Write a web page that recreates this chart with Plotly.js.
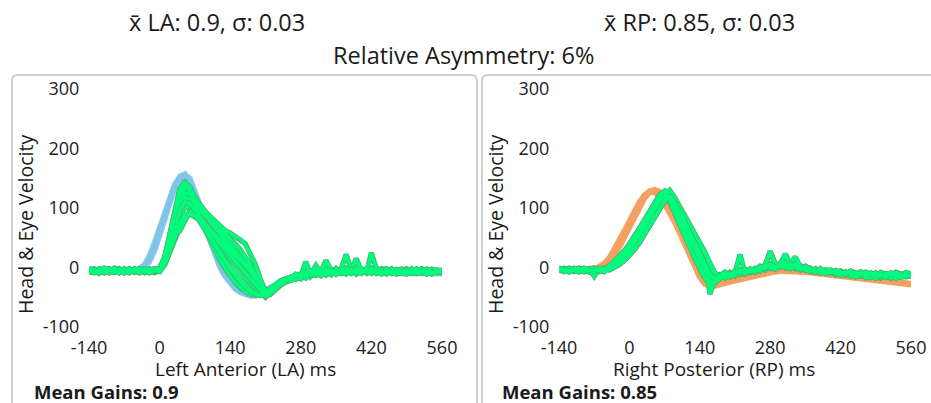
<!DOCTYPE html>
<html>
<head>
<meta charset="utf-8">
<script src="https://cdn.plot.ly/plotly-3.0.1.min.js"></script>
<style>html,body{margin:0;padding:0;background:#fff;}#chart{width:931px;height:403px;}</style>
</head>
<body>
<div id="chart"></div>
<script>
// ---- data ----
const timeMs = [-140,-130,-120,-110,-100,-90,-80,-70,-60,-50,
  -40,-30,-20,-10,0,10,20,30,40,50,
  60,70,80,90,100,110,120,130,140,150,
  160,170,180,190,200,210,220,230,240,250,
  260,270,280,290,300,310,320,330,340,350,
  360,370,380,390,400,410,420,430,440,450,
  460,470,480,490,500,510,520,530,540,550,560];

const xTicks = [-140,0,140,280,420,560];
const yTicks = [-100,0,100,200,300];

// Left Anterior: head velocity (blue)
const laHead1 = [-6,-5,-7,-6,-5,-6,-7,-6,-5,-5,
  -3,3,15,35,60,88,115,138,153,157,
  145,122,98,75,45,20,0,-15,-27,-36,
  -42,-46,-48,-47,-44,-39,-34,-29,-25,-22,
  -19,-17,-15,-14,-12,-11,-10,-10,-9,-9,
  -8,-8,-8,-7,-7,-7,-7,-8,-8,-8,
  -8,-8,-9,-9,-9,-9,-9,-9,-10,-10,-10];
const laHead2 = [-4,-6,-5,-7,-6,-5,-6,-5,-6,-4,
  -2,5,20,42,68,95,120,140,150,150,
  138,115,92,70,44,20,2,-13,-25,-34,
  -40,-44,-47,-48,-46,-42,-37,-32,-28,-24,
  -21,-18,-16,-14,-13,-12,-11,-10,-10,-9,
  -9,-8,-8,-8,-7,-7,-8,-8,-8,-9,
  -9,-9,-10,-10,-10,-9,-9,-10,-11,-11,-10];
const laHead3 = [-7,-7,-6,-5,-7,-7,-5,-7,-7,-6,
  -5,0,10,28,52,80,108,132,148,155,
  150,130,105,80,52,26,6,-9,-22,-31,
  -38,-43,-46,-46,-43,-38,-33,-28,-24,-21,
  -18,-16,-14,-13,-12,-10,-9,-9,-8,-8,
  -7,-7,-7,-6,-6,-6,-7,-7,-7,-7,
  -7,-8,-8,-8,-8,-8,-8,-9,-9,-9,-9];

// Left Anterior: eye velocity (green)
const laEye1 = [-3,-8,-2,-6,-9,-1,-5,-7,-3,-6,
  -4,-8,-2,-6,0,18,55,98,132,143,
  135,118,102,90,79,70,58,47,38,28,
  19,8,-3,-18,-33,-42,-36,-29,-24,-20,
  -19,-14,-17,-11,-14,-8,-12,-5,-10,-6,
  -9,-3,-8,-2,-7,-5,-1,-8,-4,-7,
  -2,-9,-4,-8,-3,-7,-10,-4,-8,-5,-9];
const laEye2 = [-7,-4,-10,-3,-6,-8,-2,-9,-5,-3,
  -8,-5,-3,-9,-5,8,35,72,102,118,
  115,98,80,62,44,28,12,-2,-14,-25,
  -34,-41,-45,-46,-44,-40,-35,-30,-26,-22,
  -21,-18,-13,-16,-10,-13,-7,12,-5,-9,
  -4,-8,-1,-6,-3,-9,-2,-6,-8,-3,
  -7,-4,-9,-3,-8,-5,-2,-9,-5,-7,-4];
const laEye3 = [-5,-2,-7,-4,-8,-3,-6,-4,-9,-2,
  -6,-3,-7,-4,-2,15,48,88,118,135,
  130,117,105,95,86,78,70,62,58,52,
  48,40,22,5,-20,-40,-45,-37,-30,-25,
  -20,-16,-18,-12,-9,-13,-6,-10,-3,-8,
  -2,22,-4,-9,-6,-2,-8,-4,-10,-6,
  -3,-8,-5,-2,-9,-6,-4,-8,-3,-7,-5];
const laEye4 = [-2,-6,-4,-9,-3,-7,-5,-2,-8,-6,
  -3,-9,-5,-2,-6,5,28,60,88,100,
  104,96,85,72,60,48,36,25,14,4,
  -6,-16,-26,-35,-42,-46,-40,-32,-26,-21,
  -17,-20,-14,10,-15,-7,-12,-4,-9,-2,
  -7,-3,-6,15,-5,-8,-3,-7,-2,-9,
  -5,-8,-3,-7,-6,-2,-8,-5,-9,-4,-6];
const laEye5 = [-6,-3,-8,-5,-2,-7,-4,-8,-3,-5,
  -9,-4,-6,-8,-4,6,30,55,62,78,
  95,90,78,64,50,36,22,10,-2,-14,
  -24,-33,-40,-45,-47,-43,-37,-31,-26,-22,
  -18,-15,-19,-12,-8,-11,-6,-9,-4,-10,
  -5,-1,-7,-4,-8,-3,-6,-9,-4,-2,
  -8,-5,-3,-9,-6,-4,-7,-3,-8,-6,-5];
const laEye6 = [-4,-7,-3,-5,-8,-4,-9,-3,-6,-7,
  -2,-6,-9,-3,-5,14,46,86,122,138,
  132,116,100,88,77,67,56,45,35,26,
  16,6,-6,-24,-40,-50,-42,-34,-28,-23,
  -22,-17,-14,-18,-11,-9,-14,-6,-7,-11,
  -3,-6,-9,-2,-5,-7,-4,-1,-6,-8,
  -4,-9,-6,-3,-7,-10,-3,-7,-4,-8,-9];
const laEye7 = [-8,-5,-3,-7,-4,-6,-8,-5,-7,-4,
  -6,-2,-7,-5,-1,10,38,78,110,125,
  124,112,99,89,82,74,65,56,48,40,
  30,18,4,-14,-32,-42,-35,-27,-22,-19,
  -16,-19,-12,-15,-8,-12,-5,-9,-7,-3,
  -8,-5,-2,-7,-4,-9,25,-3,-7,-5,
  -9,-3,-6,-8,-2,-7,-5,-9,-3,-6,-8];
const laEye8 = [-9,-4,-6,-1,-5,-8,-3,-6,-2,-8,
  -5,-7,-3,-6,-3,9,36,62,96,110,
  108,98,86,74,62,51,40,30,20,11,
  2,-8,-18,-30,-40,-48,-44,-35,-28,-22,
  -16,-12,-15,-9,-13,-4,-10,-6,-12,-2,
  -10,-6,-3,-11,-5,-8,-2,-10,-6,-9,
  -6,-11,-7,-4,-10,-8,-5,-11,-7,-9,-6];
const laEye9 = [-1,-6,-9,-4,-2,-8,-5,-9,-4,-7,
  -8,-3,-5,-2,-4,16,50,92,130,145,
  128,106,86,68,52,38,24,12,0,-10,
  -20,-30,-38,-44,-47,-44,-38,-31,-25,-21,
  -18,-11,-16,-8,-12,3,-9,-13,-6,-8,
  -6,-11,-4,-8,-10,-3,-9,-5,-11,-4,
  -10,-6,-8,-11,-4,-9,-7,-3,-10,-7,-4];
const laEye10 = [-6,-9,-4,-8,-5,-3,-9,-4,-8,-3,
  -4,-6,-8,-4,-7,4,26,50,72,88,
  90,86,80,72,63,54,45,36,28,20,
  12,3,-7,-18,-30,-40,-42,-34,-27,-22,
  -19,-13,-11,-14,-6,-10,-13,-3,-8,-12,
  -7,-2,-10,-5,-3,-6,-10,-2,-7,-11,
  -3,-7,-10,-6,-9,-3,-6,-8,-11,-5,-8];

// Right Posterior: head velocity (orange)
const rpHead1 = [-4,-3,-5,-4,-3,-4,-3,-2,0,4,
  12,25,40,56,72,90,106,120,129,130,
  124,114,100,85,68,48,26,5,-14,-26,
  -31,-30,-27,-24,-22,-20,-18,-16,-14,-12,
  -10,-8,-7,-6,-5,-5,-5,-6,-6,-7,
  -8,-9,-10,-11,-12,-13,-14,-15,-16,-17,
  -18,-19,-20,-21,-22,-23,-24,-25,-26,-27,-28];
const rpHead2 = [-3,-5,-4,-3,-5,-3,-4,-3,2,7,
  16,30,46,62,78,95,110,122,128,126,
  118,106,92,76,58,38,18,0,-17,-28,
  -32,-31,-28,-25,-23,-21,-19,-17,-15,-13,
  -11,-9,-8,-7,-6,-6,-6,-7,-7,-8,
  -9,-10,-11,-12,-13,-14,-15,-16,-17,-18,
  -19,-20,-21,-22,-23,-24,-25,-26,-27,-28,-29];
const rpHead3 = [-5,-4,-3,-5,-4,-5,-4,-4,-1,2,
  8,20,34,50,66,84,101,116,126,131,
  128,119,106,92,75,55,34,12,-8,-22,
  -29,-30,-28,-25,-23,-21,-19,-17,-15,-13,
  -11,-9,-8,-7,-6,-5,-5,-5,-6,-6,
  -7,-8,-9,-10,-11,-12,-13,-14,-15,-16,
  -17,-18,-19,-20,-21,-22,-23,-24,-25,-26,-27];

// Right Posterior: eye velocity (green)
const rpEye1 = [-2,-6,-1,-4,-7,-2,-5,-3,-6,-1,
  2,9,17,26,36,48,62,76,91,106,
  118,127,126,112,98,83,68,53,38,21,
  3,-11,-14,-18,-10,-14,-6,-11,-3,-7,
  1,-4,5,0,8,2,6,-2,3,-5,
  -1,-8,-3,-10,-5,-12,-6,-13,-9,-16,
  -10,-17,-11,-18,-12,-16,-10,-17,-11,-15,-9];
const rpEye2 = [-5,-1,-4,-7,-2,-6,-3,-15,-2,-4,
  -2,5,12,21,30,43,57,71,86,101,
  113,122,128,115,100,84,70,55,40,22,
  -45,-20,-12,-16,-8,-13,-4,-9,-5,-2,
  -6,2,-1,6,1,7,0,4,-4,1,
  -7,-2,-9,-4,-6,-11,-7,-9,-14,-10,
  -15,-11,-16,-12,-18,-13,-15,-19,-12,-16,-13];
const rpEye3 = [-4,-3,-7,-2,-5,-4,-8,-1,-5,-6,
  1,8,14,23,33,45,58,72,88,103,
  115,124,122,108,94,79,64,49,34,17,
  -2,-14,-18,-13,-15,-8,22,-10,-7,-3,
  -5,3,-2,4,6,9,1,5,-3,2,
  -3,-6,-4,-9,-7,-8,-12,-8,-14,-11,
  -13,-16,-12,-15,-13,-17,-12,-14,-16,-11,-14];
const rpEye4 = [-3,-7,-2,-5,-1,-6,-3,-5,-7,-2,
  -1,6,13,22,32,44,56,70,84,98,
  109,116,117,106,93,79,65,51,37,20,
  4,-12,-17,-14,-11,-13,-7,-9,-5,-8,
  -1,4,27,6,3,8,2,-1,2,-4,
  -2,-7,-5,-8,-6,-10,-9,-13,-10,-12,
  -14,-12,-15,-13,-16,-12,-18,-13,-15,-14,-12];
const rpEye5 = [-6,-2,-5,-3,-8,-4,-2,-6,-3,-5,
  0,7,16,25,35,47,61,75,90,105,
  117,126,125,111,97,82,67,52,37,19,
  0,-15,-15,-12,-16,-10,-12,-6,-9,-4,
  -3,1,3,-2,5,23,4,2,-2,0,
  -5,-3,-8,-6,-10,-7,-11,-10,-13,-15,
  -12,-14,-17,-13,-15,-11,-14,-16,-13,-10,-15];
const rpEye6 = [-1,-4,-6,-2,-4,-7,-3,-2,-5,-3,
  -3,3,10,19,28,40,53,67,82,97,
  111,122,130,118,103,87,72,57,42,26,
  8,-9,-15,-17,-12,-9,-11,-7,-4,-6,
  0,-3,4,2,7,3,8,1,-2,-3,
  -6,-4,-7,-5,-9,-8,-10,-11,-12,-14,
  -11,-15,-13,-16,-14,-13,-17,-12,-14,-13,-16];
const rpEye7 = [-4,-5,-2,-6,-3,-3,-6,-4,-2,-7,
  3,10,18,27,37,49,63,77,92,107,
  119,128,124,109,95,80,65,50,35,18,
  -1,-13,-16,-14,-12,-11,-8,-7,-7,-2,
  -3,1,0,5,2,6,5,18,1,-2,
  -4,-6,-5,-7,-8,-9,-10,-9,-11,-13,
  -15,-13,-14,-12,-17,-15,-13,-15,-17,-14,-11];
const rpEye8 = [-3,-6,-4,-1,-6,-3,-7,-2,-5,-4,
  2,10,18,28,40,52,66,80,95,110,
  122,128,112,92,72,52,34,16,-2,-18,
  -28,-22,-15,-10,-13,-7,-10,-4,-8,-1,
  -4,3,-1,7,2,5,-1,3,-4,0,
  -6,-3,-9,-5,-4,-10,-6,-12,-8,-11,
  -7,-12,-9,-14,-8,-11,-15,-9,-13,-8,-11];
const rpEye9 = [-5,-3,-6,-4,-2,-7,-4,-6,-3,-2,
  -4,0,5,12,20,30,42,56,70,86,
  100,112,120,110,94,76,58,40,22,6,
  -10,-20,-14,-8,-12,-6,-9,-3,-7,-5,
  2,-2,6,1,4,-1,7,0,-3,2,
  -4,-8,-2,-7,-9,-5,-8,-11,-6,-10,
  -13,-8,-12,-9,-14,-10,-13,-8,-12,-15,-10];
const rpEye10 = [-2,-5,-8,-3,-6,-1,-4,-7,-4,-6,
  -1,4,11,20,30,42,55,69,84,99,
  112,121,118,102,84,66,48,30,12,-6,
  -22,-26,-18,-12,-15,-9,-5,-8,-2,-6,
  -2,4,1,-3,6,3,-2,4,0,-4,
  -2,-7,-4,-10,-6,-9,-13,-7,-10,-14,
  -9,-13,-10,-15,-11,-14,-9,-13,-16,-11,-13];

const laTitle = "x\u0304 LA: 0.9, \u03c3: 0.03";
const rpTitle = "x\u0304 RP: 0.85, \u03c3: 0.03";
const asymTitle = "Relative Asymmetry: 6%";
const laAxisTitle = "Left Anterior (LA) ms";
const rpAxisTitle = "Right Posterior (RP) ms";
const yAxisTitle = "Head &amp; Eye Velocity";
const laGain = "Mean Gains: 0.9";
const rpGain = "Mean Gains: 0.85";

// ---- styling ----
const W = 931, H = 403;
const px = v => v / W;
const py = v => 1 - v / H;
const FONT = "Open Sans, Noto Sans, sans-serif";
const BLUE = "rgba(128,196,232,0.9)";
const ORANGE = "rgba(242,160,96,0.95)";
const GREEN = "#00fb7d";
const GREEN_EDGE = "#52ad6e";

function trace(y, color, width, xa, ya) {
  return {x: timeMs, y: y, type: "scatter", mode: "lines",
    line: {color: color, width: width, shape: "linear"},
    xaxis: xa, yaxis: ya, hoverinfo: "skip", showlegend: false};
}

const laEyes = [laEye1, laEye2, laEye3, laEye4, laEye5, laEye6, laEye7, laEye8, laEye9, laEye10];
const rpEyes = [rpEye1, rpEye2, rpEye3, rpEye4, rpEye5, rpEye6, rpEye7, rpEye8, rpEye9, rpEye10];

const traces = [];
[laHead1, laHead2, laHead3].forEach(a => traces.push(trace(a, BLUE, 5.5, "x", "y")));
laEyes.forEach(a => traces.push(trace(a, GREEN_EDGE, 5.2, "x", "y")));
laEyes.forEach((a, i) => {
  if (i === 4 || i === 7) traces.push(trace(a, GREEN_EDGE, 5, "x", "y"));
  traces.push(trace(a, GREEN, 3.6, "x", "y"));
});
[rpHead1, rpHead2, rpHead3].forEach(a => traces.push(trace(a, ORANGE, 5.5, "x2", "y2")));
rpEyes.forEach(a => traces.push(trace(a, GREEN_EDGE, 5.2, "x2", "y2")));
rpEyes.forEach((a, i) => {
  if (i === 3 || i === 8) traces.push(trace(a, GREEN_EDGE, 5, "x2", "y2"));
  traces.push(trace(a, GREEN, 3.6, "x2", "y2"));
});

const tickFont = {family: FONT, size: 18, color: "#222"};
function xax(d) {
  return {domain: d, range: [-140, 560], tickmode: "array", tickvals: xTicks,
    ticktext: xTicks.map(String), showgrid: false, zeroline: false, showline: false,
    ticks: "outside", ticklen: 4, tickcolor: "rgba(0,0,0,0)", tickfont: tickFont, fixedrange: true};
}
function yax(anchor) {
  return {domain: [(H - 327) / H, (H - 89) / H], range: [-100, 300], tickmode: "array",
    tickvals: yTicks, ticktext: yTicks.map(String), showgrid: false, zeroline: false,
    showline: false, ticks: "outside", ticklen: 5, tickcolor: "rgba(0,0,0,0)",
    tickfont: tickFont, anchor: anchor, fixedrange: true};
}

function boxPath(x0, x1, yt, yb, r) {
  const X0 = px(x0), X1 = px(x1), YT = py(yt), YB = py(yb);
  const rx = r / W, ry = r / H;
  return `M ${X0},${YB} L ${X0},${YT - ry} Q ${X0},${YT} ${X0 + rx},${YT} ` +
    `L ${X1 - rx},${YT} Q ${X1},${YT} ${X1},${YT - ry} L ${X1},${YB}`;
}

function ann(text, x, y, size, opts) {
  return Object.assign({text: text, x: px(x), y: py(y), xref: "paper", yref: "paper",
    showarrow: false, xanchor: "center", yanchor: "middle",
    font: {family: FONT, size: size, color: "#1a1a1a"}}, opts || {});
}

const layout = {
  width: W, height: H, autosize: false,
  margin: {l: 0, r: 0, t: 0, b: 0, pad: 0},
  paper_bgcolor: "#ffffff", plot_bgcolor: "rgba(0,0,0,0)",
  showlegend: false,
  xaxis: xax([89 / W, 442 / W]),
  yaxis: yax("x"),
  xaxis2: Object.assign(xax([559 / W, 911 / W]), {anchor: "y2"}),
  yaxis2: yax("x2"),
  shapes: [
    {type: "path", xref: "paper", yref: "paper", path: boxPath(12, 477, 75, 410, 6),
      line: {color: "#cfcfcf", width: 2}, layer: "below"},
    {type: "path", xref: "paper", yref: "paper", path: boxPath(482, 945, 75, 410, 6),
      line: {color: "#cfcfcf", width: 2}, layer: "below"}
  ],
  annotations: [
    ann(laTitle, 217, 22, 23.5),
    ann(rpTitle, 699, 22, 23.5),
    ann(asymTitle, 463, 55, 23.5),
    ann(yAxisTitle, 25, 225, 19.5, {textangle: -90}),
    ann(yAxisTitle, 495, 225, 19.5, {textangle: -90}),
    ann(laAxisTitle, 245, 369, 19),
    ann(rpAxisTitle, 714, 369, 19),
    ann("<b>" + laGain + "</b>", 32, 391, 18.5, {xanchor: "left"}),
    ann("<b>" + rpGain + "</b>", 500, 391, 18.5, {xanchor: "left"})
  ]
};

Plotly.newPlot("chart", traces, layout, {displayModeBar: false, staticPlot: true});
</script>
</body>
</html>
